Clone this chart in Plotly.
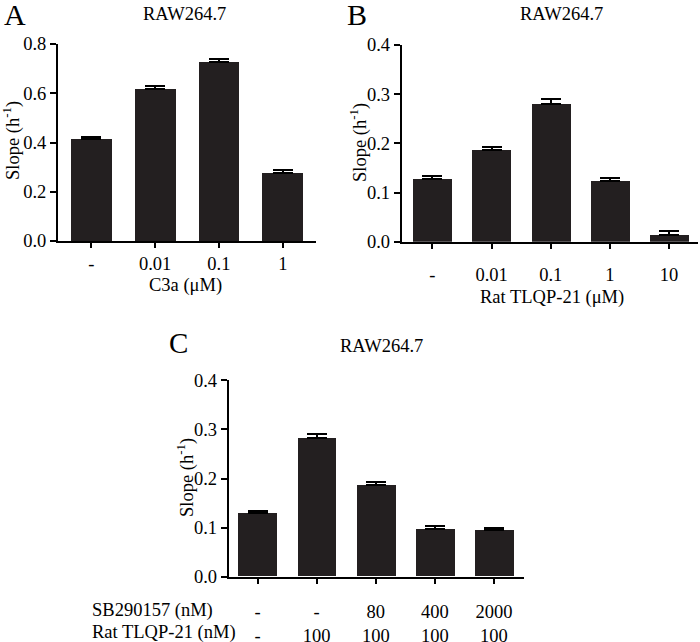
import plotly.graph_objects as go

W, H = 700, 642

# ---- data ----
a_labels = ["-", "0.01", "0.1", "1"]
a_values = [0.414, 0.616, 0.728, 0.277]
a_errors = [0.010, 0.013, 0.010, 0.011]

b_labels = ["-", "0.01", "0.1", "1", "10"]
b_values = [0.128, 0.186, 0.280, 0.123, 0.0145]
b_errors = [0.006, 0.006, 0.010, 0.006, 0.0075]

c_sb = ["-", "-", "80", "400", "2000"]
c_tlqp = ["-", "100", "100", "100", "100"]
c_values = [0.129, 0.282, 0.187, 0.0965, 0.0945]
c_errors = [0.005, 0.009, 0.0065, 0.006, 0.0055]

BAR = "#231f20"
FONT = "Liberation Serif"
FS = 18.5


def px_x(p):
    return p / W


def px_y(p):
    return 1 - p / H


fig = go.Figure()


def add_panel(idx, values, errors, width):
    xs = list(range(len(values)))
    fig.add_trace(go.Bar(
        x=xs, y=values, width=width,
        marker=dict(color=BAR, line=dict(width=0)),
        error_y=dict(type="data", array=errors, arrayminus=[0] * len(errors),
                     symmetric=False, color="black", thickness=2, width=10),
        xaxis="x" + ("" if idx == 1 else str(idx)),
        yaxis="y" + ("" if idx == 1 else str(idx)),
        showlegend=False,
    ))


add_panel(1, a_values, a_errors, 0.64)
add_panel(2, b_values, b_errors, 0.66)
add_panel(3, c_values, c_errors, 0.66)

axis_common = dict(
    showline=True, linecolor="black", linewidth=2, showgrid=False, zeroline=False,
    ticks="outside", tickcolor="black", tickwidth=2,
    tickfont=dict(family=FONT, size=FS, color="black"),
)

c_ticktext = [f"{s}<br>{t}" for s, t in zip(c_sb, c_tlqp)]

fig.update_layout(
    width=W, height=H,
    margin=dict(l=0, r=0, t=0, b=0, autoexpand=False),
    paper_bgcolor="white", plot_bgcolor="white",
    font=dict(family=FONT, color="black", size=FS),
    bargap=0,
    xaxis=dict(axis_common, domain=[px_x(58), px_x(316)], range=[-0.52, 3.52],
               tickvals=list(range(4)), ticktext=a_labels, ticklen=5,
               ticklabelstandoff=0, anchor="y"),
    yaxis=dict(axis_common, domain=[px_y(241), px_y(44)], range=[0, 0.8],
               tickvals=[0, 0.2, 0.4, 0.6, 0.8], tickformat=".1f", ticklen=6,
               anchor="x"),
    xaxis2=dict(axis_common, domain=[px_x(401.7), px_x(698)], range=[-0.52, 4.49],
                tickvals=list(range(5)), ticktext=b_labels, ticklen=5,
                ticklabelstandoff=10, anchor="y2"),
    yaxis2=dict(axis_common, domain=[px_y(241.7), px_y(45)], range=[0, 0.4],
                tickvals=[0, 0.1, 0.2, 0.3, 0.4], tickformat=".1f", ticklen=6,
                anchor="x2"),
    xaxis3=dict(axis_common, domain=[px_x(228.7), px_x(524)], range=[-0.49, 4.51],
                tickvals=list(range(5)), ticktext=c_ticktext, ticklen=5,
                ticklabelstandoff=12, anchor="y3"),
    yaxis3=dict(axis_common, domain=[px_y(576.7), px_y(380.3)], range=[0, 0.4],
                tickvals=[0, 0.1, 0.2, 0.3, 0.4], tickformat=".1f", ticklen=6,
                anchor="x3"),
)

annots = [
    ("A", 15, 15, 30, "center", 0),
    ("B", 357, 14, 30, "center", 0),
    ("C", 178, 343, 29, "center", 0),
    ("RAW264.7", 184, 14, FS, "center", 0),
    ("RAW264.7", 561, 14, FS, "center", 0),
    ("RAW264.7", 381, 346, FS, "center", 0),
    ("C3a (μM)", 185, 285, FS, "center", 0),
    ("Rat TLQP-21 (μM)", 552, 298, FS, "center", 0),
    ("SB290157 (nM)", 90, 610, FS, "left", 0),
    ("Rat TLQP-21 (nM)", 90, 632, FS, "left", 0),
    ("Slope (h<sup>-1</sup>)", 12, 141, FS, "center", -90),
    ("Slope (h<sup>-1</sup>)", 359, 143, FS, "center", -90),
    ("Slope (h<sup>-1</sup>)", 185, 478, FS, "center", -90),
]
for text, x, y, size, xa, ang in annots:
    fig.add_annotation(text=text, x=px_x(x), y=px_y(y), xref="paper", yref="paper",
                       xanchor=xa, yanchor="middle", showarrow=False, textangle=ang,
                       font=dict(family=FONT, size=size, color="black"))

fig.write_html("out.html", config={"displayModeBar": False},
               post_script="document.body.style.margin='0';document.body.style.overflow='hidden';")
